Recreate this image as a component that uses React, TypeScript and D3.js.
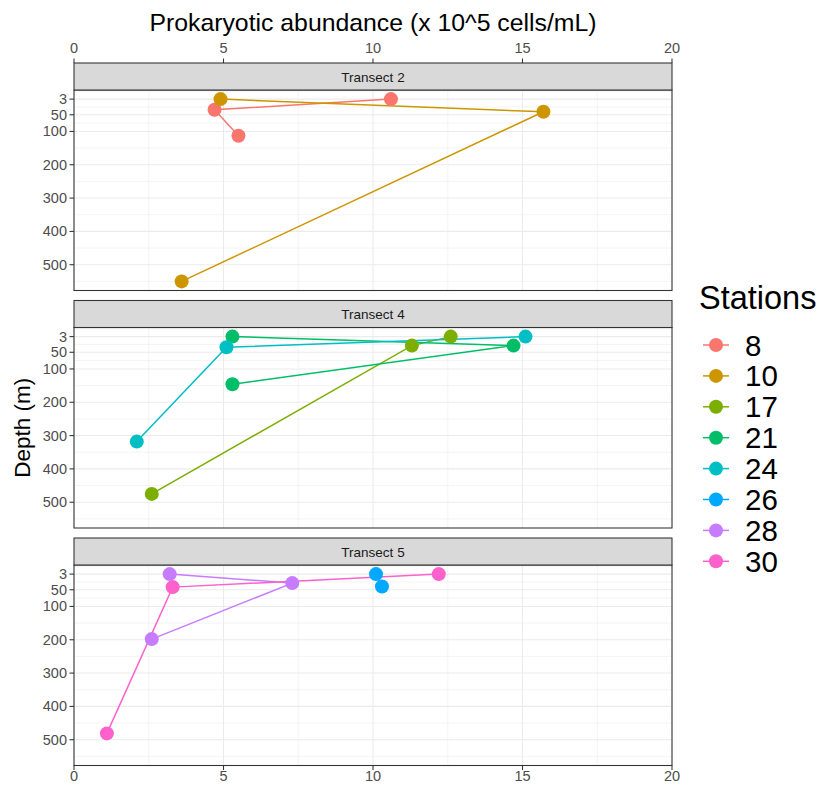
import React from 'react';
import * as d3 from 'd3';

const transects = ['Transect 2', 'Transect 4', 'Transect 5'];
const stations = ['8', '10', '17', '21', '24', '26', '28', '30'];
const stationColors = ['#F8766D', '#CD9600', '#7CAE00', '#00BE67', '#00BFC4', '#00A9FF', '#C77CFF', '#FF61CC'];
const stationTransect = [0, 0, 1, 1, 1, 2, 2, 2];
const abundance = [
  [10.6, 4.7, 5.5],
  [4.9, 15.7, 3.6],
  [12.6, 11.3, 2.6],
  [5.3, 14.7, 5.3],
  [15.1, 5.1, 2.1],
  [10.1, 10.3],
  [3.2, 7.3, 2.6],
  [12.2, 3.3, 1.1],
];
const depth = [
  [3, 35, 113],
  [3, 41, 550],
  [3, 30, 475],
  [3, 30, 146],
  [3, 35, 318],
  [3, 40],
  [3, 30, 198],
  [3, 42, 481],
];
const xTicks = [0, 5, 10, 15, 20];
const xMinorTicks = [2.5, 7.5, 12.5, 17.5];
const depthTicks = [3, 50, 100, 200, 300, 400, 500];

const FONT = 'Liberation Sans, Arial, sans-serif';
const W = 820;
const H = 787;
const left = 74;
const right = 672;
const panelTops = [90, 327.5, 565];
const panelH = 200.5;
const stripH = 27;

export default function App() {
  const x = d3.scaleLinear().domain([0, 20]).range([left, right]);
  const allDepth = depth.flat();
  const dMin = d3.min(allDepth) as number;
  const dMax = d3.max(allDepth) as number;
  const pad = (dMax - dMin) * 0.05;
  const yDomain: [number, number] = [dMin - pad, dMax + pad];

  // minor breaks (ggplot-style midpoints)
  const ext = [...depthTicks];
  if (yDomain[0] < ext[0]) ext.unshift(ext[0] - (ext[1] - ext[0]));
  const n = ext.length;
  if (yDomain[1] > ext[n - 1]) ext.push(ext[n - 1] + (ext[n - 1] - ext[n - 2]));
  const yMinor = ext.slice(1).map((v, i) => (v + ext[i]) / 2).filter((v) => v >= yDomain[0] && v <= yDomain[1]);

  const line = d3.line<[number, number]>();

  return (
    <svg width={W} height={H} style={{ position: 'absolute', left: 0, top: 0, background: '#fff' }} fontFamily={FONT}>
      <rect x={0} y={0} width={W} height={H} fill="#fff" />
      {/* top title */}
      <text x={(left + right) / 2} y={31} textAnchor="middle" fontSize={24.8} fill="#000">
        Prokaryotic abundance (x 10^5 cells/mL)
      </text>
      {/* top axis */}
      {xTicks.map((t) => (
        <g key={'tt' + t}>
          <line x1={x(t)} x2={x(t)} y1={58.5} y2={63} stroke="#333" strokeWidth={1.07} />
          <text x={x(t)} y={52.5} textAnchor="middle" fontSize={14.5} fill="#4D4D4D">{t}</text>
        </g>
      ))}
      {/* y title */}
      <text transform={`translate(30,${(panelTops[0] + panelTops[2] + panelH) / 2}) rotate(-90)`} textAnchor="middle" fontSize={22.5} fill="#000">
        Depth (m)
      </text>
      {transects.map((tr, pi) => {
        const top = panelTops[pi];
        const y = d3.scaleLinear().domain(yDomain).range([top, top + panelH]);
        const members = stationTransect.map((t, i) => (t === pi ? i : -1)).filter((i) => i >= 0);
        return (
          <g key={tr}>
            <rect x={left} y={top} width={right - left} height={panelH} fill="#fff" />
            {yMinor.map((v) => (
              <line key={'ym' + v} x1={left} x2={right} y1={y(v)} y2={y(v)} stroke="#EBEBEB" strokeWidth={0.53} />
            ))}
            {xMinorTicks.map((v) => (
              <line key={'xm' + v} x1={x(v)} x2={x(v)} y1={top} y2={top + panelH} stroke="#EBEBEB" strokeWidth={0.53} />
            ))}
            {depthTicks.map((v) => (
              <line key={'yM' + v} x1={left} x2={right} y1={y(v)} y2={y(v)} stroke="#EBEBEB" strokeWidth={1.07} />
            ))}
            {xTicks.map((v) => (
              <line key={'xM' + v} x1={x(v)} x2={x(v)} y1={top} y2={top + panelH} stroke="#EBEBEB" strokeWidth={1.07} />
            ))}
            {members.map((si) => (
              <path
                key={'l' + si}
                d={line(abundance[si].map((a, k) => [x(a), y(depth[si][k])] as [number, number])) || ''}
                fill="none"
                stroke={stationColors[si]}
                strokeWidth={1.5}
              />
            ))}
            {members.map((si) =>
              abundance[si].map((a, k) => (
                <circle key={'p' + si + '-' + k} cx={x(a)} cy={y(depth[si][k])} r={7} fill={stationColors[si]} />
              ))
            )}
            <rect x={left} y={top} width={right - left} height={panelH} fill="none" stroke="#333" strokeWidth={1.07} />
            {/* strip */}
            <rect x={left} y={top - stripH} width={right - left} height={stripH} fill="#D9D9D9" stroke="#333" strokeWidth={1.07} />
            <text x={(left + right) / 2} y={top - stripH / 2 + 5} textAnchor="middle" fontSize={13.5} fill="#1A1A1A">
              {tr}
            </text>
            {/* y axis */}
            {depthTicks.map((v) => (
              <g key={'yt' + v}>
                <line x1={left - 4.5} x2={left} y1={y(v)} y2={y(v)} stroke="#333" strokeWidth={1.07} />
                <text x={left - 7} y={y(v) + 5} textAnchor="end" fontSize={14.5} fill="#4D4D4D">{v}</text>
              </g>
            ))}
          </g>
        );
      })}
      {/* bottom axis */}
      {xTicks.map((t) => (
        <g key={'bt' + t}>
          <line x1={x(t)} x2={x(t)} y1={panelTops[2] + panelH} y2={panelTops[2] + panelH + 4.5} stroke="#333" strokeWidth={1.07} />
          <text x={x(t)} y={panelTops[2] + panelH + 15.5} textAnchor="middle" fontSize={14.5} fill="#4D4D4D">{t}</text>
        </g>
      ))}
      {/* legend */}
      <text x={699} y={309} fontSize={32.5} fill="#000">Stations</text>
      {stations.map((s, i) => {
        const cy = 345 + i * 30.9;
        return (
          <g key={'lg' + s}>
            <line x1={703} x2={729} y1={cy} y2={cy} stroke={stationColors[i]} strokeWidth={1.5} />
            <circle cx={716} cy={cy} r={7} fill={stationColors[i]} />
            <text x={745} y={cy + 10.5} fontSize={29.5} fill="#000">{s}</text>
          </g>
        );
      })}
    </svg>
  );
}
